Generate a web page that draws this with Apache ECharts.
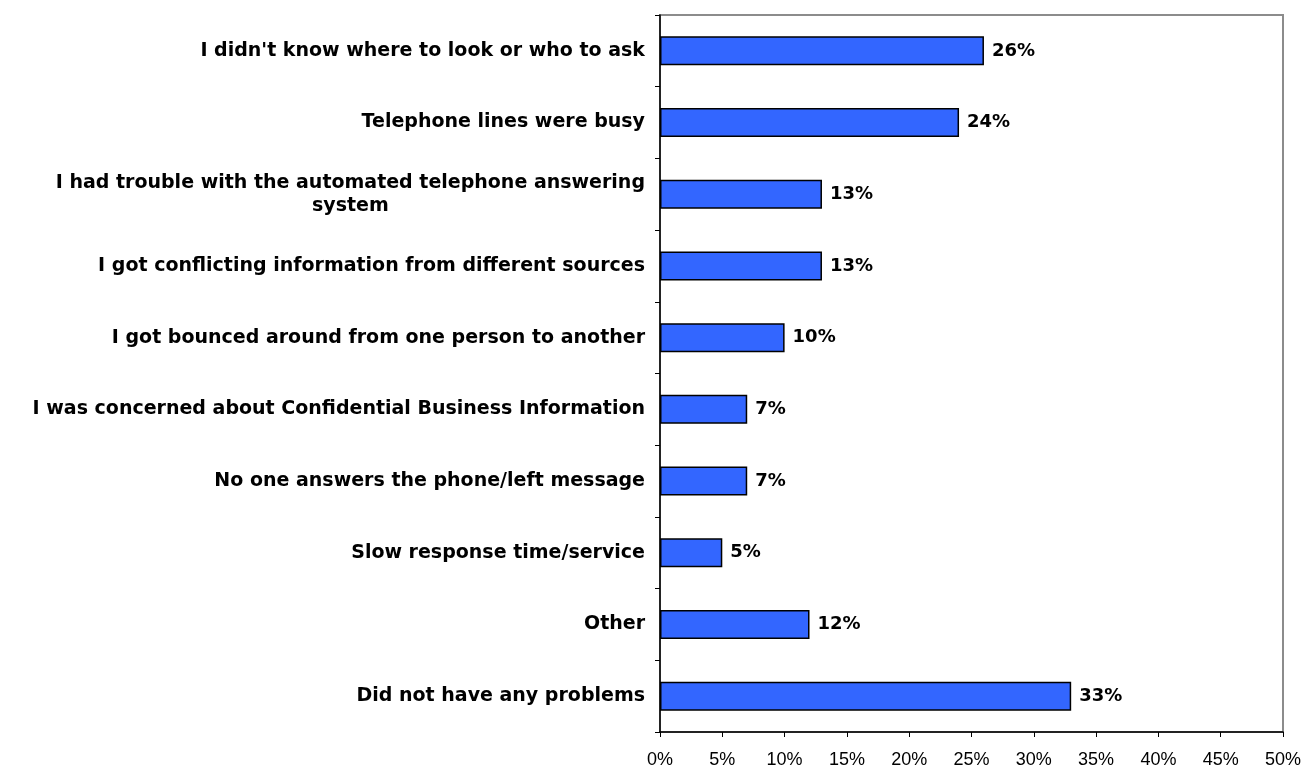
<!DOCTYPE html>
<html>
<head>
<meta charset="utf-8">
<script src="https://cdn.jsdelivr.net/npm/echarts@6/dist/echarts.min.js"></script>
<style>
  html, body { margin: 0; padding: 0; background: #ffffff; }
  #chart { width: 1305px; height: 771px; }
</style>
</head>
<body>
<div id="chart"></div>
<script>
// Reasons given for problems, listed top to bottom
const categories = [
  "I didn't know where to look or who to ask",
  "Telephone lines were busy",
  "I had trouble with the automated telephone answering\nsystem",
  "I got conflicting information from different sources",
  "I got bounced around from one person to another",
  "I was concerned about Confidential Business Information",
  "No one answers the phone/left message",
  "Slow response time/service",
  "Other",
  "Did not have any problems"
];
// Share of respondents (%)
const shares = [26, 24, 13, 13, 10, 7, 7, 5, 12, 33];
// Value axis ticks (%)
const xTicks = [0, 5, 10, 15, 20, 25, 30, 35, 40, 45, 50];

const TICK_FONT = '"Liberation Sans", Arial, Helvetica, sans-serif';
const BOLD_FONT = '"DejaVu Sans", "Liberation Sans", Arial, sans-serif';

const chart = echarts.init(document.getElementById('chart'), null, { renderer: 'canvas' });

chart.setOption({
  backgroundColor: '#ffffff',
  animation: false,
  grid: {
    left: 660,
    right: 22,
    top: 15,
    bottom: 39,
    containLabel: false,
    outerBoundsMode: 'none',
    show: true,
    borderColor: '#8c8c8c',
    borderWidth: 2,
    backgroundColor: 'transparent'
  },
  xAxis: {
    type: 'value',
    min: xTicks[0],
    max: xTicks[xTicks.length - 1],
    interval: xTicks[1] - xTicks[0],
    axisLine: { show: true, lineStyle: { color: '#000000', width: 1.5 } },
    axisTick: { show: true, length: 5, lineStyle: { color: '#000000', width: 1 } },
    splitLine: { show: false },
    axisLabel: {
      margin: 19,
      color: '#000000',
      fontFamily: TICK_FONT,
      fontSize: 18,
      formatter: v => v + '%'
    }
  },
  yAxis: {
    type: 'category',
    inverse: true,
    data: categories,
    axisLine: { show: true, lineStyle: { color: '#000000', width: 1.5 } },
    axisTick: { show: true, length: 5, alignWithLabel: false, lineStyle: { color: '#000000', width: 1 } },
    splitLine: { show: false },
    axisLabel: {
      margin: 15,
      align: 'right',
      color: '#000000',
      fontFamily: BOLD_FONT,
      fontSize: 19,
      fontWeight: 'bold',
      lineHeight: 23,
      formatter: v => v.split('\n').map(s => '{c|' + s + '}').join('\n'),
      rich: {
        c: {
          align: 'center',
          color: '#000000',
          fontFamily: BOLD_FONT,
          fontSize: 19,
          fontWeight: 'bold',
          lineHeight: 23
        }
      }
    }
  },
  series: [{
    type: 'bar',
    data: shares,
    barWidth: 29,
    itemStyle: {
      color: '#3366ff',
      borderColor: '#000000',
      borderWidth: 1.5
    },
    label: {
      show: true,
      position: 'right',
      distance: 8,
      color: '#000000',
      fontFamily: BOLD_FONT,
      fontSize: 18,
      fontWeight: 'bold',
      formatter: p => p.value + '%'
    }
  }]
});
</script>
</body>
</html>
